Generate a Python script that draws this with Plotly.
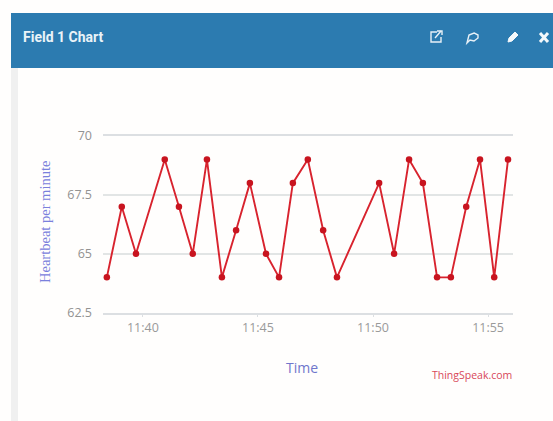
import plotly.graph_objects as go

title_text = "Field 1 Chart"
y_title = "Heartbeat per minute"
x_title = "Time"
credit = "ThingSpeak.com"

times = ["11:38:26", "11:39:05", "11:39:42", "11:40:57", "11:41:34", "11:42:10",
         "11:42:47", "11:43:26", "11:44:03", "11:44:39", "11:45:21", "11:45:55",
         "11:46:31", "11:47:10", "11:47:50", "11:48:26", "11:50:16", "11:50:55",
         "11:51:34", "11:52:10", "11:52:47", "11:53:23", "11:54:03", "11:54:39",
         "11:55:16", "11:55:52"]
heartbeat = [64, 67, 65, 69, 67, 65, 69, 64, 66, 68, 65, 64, 68,
             69, 66, 64, 68, 65, 69, 68, 64, 64, 67, 69, 64, 69]
y_ticks = [62.5, 65, 67.5, 70]
y_labels = ["62.5", "65", "67.5", "70"]
x_ticks = ["11:40:00", "11:45:00", "11:50:00", "11:55:00"]
x_labels = ["11:40", "11:45", "11:50", "11:55"]

W, H = 553, 421
DAY = "2024-01-01 "


def px(x):
    return x / W


def py(y):
    return 1 - y / H


def rect(x0, y0, x1, y1, color):
    return dict(type="rect", xref="paper", yref="paper", x0=px(x0), x1=px(x1),
                y0=py(y0), y1=py(y1), fillcolor=color, line_width=0, layer="below")


def icon(path_d):
    return dict(type="path", xref="paper", yref="paper", path=path_d,
                line=dict(color="#e8f1f7", width=1.4), layer="above")


def pth(points, close=False):
    d = "M " + " L ".join(f"{px(a):.5f},{py(b):.5f}" for a, b in points)
    return d + (" Z" if close else "")


shapes = [
    rect(11, 13, 553, 68, "#2c7bb0"),
    rect(11, 68, 18, 421, "#f0f0f0"),
    # external-link icon
    icon(pth([(437, 32), (431, 32), (431, 42), (441, 42), (441, 37)])),
    icon(pth([(435, 38), (441, 31)])),
    icon(pth([(437, 31), (442, 31), (442, 35)])),
    # speech bubble
    icon(pth([(474, 33), (478, 35), (478, 38), (474, 41), (470, 40), (467, 43),
              (468, 39), (469, 35)], close=True)),
    # pencil
    dict(type="path", xref="paper", yref="paper",
         path=pth([(508, 42), (509, 38), (515, 32), (518, 35), (512, 41)], close=True),
         fillcolor="#f4f8fb", line=dict(color="#f4f8fb", width=1), layer="above"),
    # close mark
    dict(type="path", xref="paper", yref="paper", path=pth([(540, 33), (548, 42)]),
         line=dict(color="#f4f8fb", width=3), layer="above"),
    dict(type="path", xref="paper", yref="paper", path=pth([(548, 33), (540, 42)]),
         line=dict(color="#f4f8fb", width=3), layer="above"),
]

annotations = [
    dict(text=f"<b>{title_text}</b>", xref="paper", yref="paper", x=px(21), y=py(37),
         xanchor="left", yanchor="middle", showarrow=False,
         font=dict(family="Roboto", size=14, color="#eaf3f8")),
    dict(text=y_title, xref="paper", yref="paper", x=px(45), y=py(222),
         xanchor="center", yanchor="middle", textangle=-90, showarrow=False,
         font=dict(family="Liberation Serif", size=14.5, color="#7a80dc")),
    dict(text=x_title, xref="paper", yref="paper", x=px(302), y=py(367),
         xanchor="center", yanchor="middle", showarrow=False,
         font=dict(family="Open Sans", size=14, color="#7076cc")),
    dict(text=credit, xref="paper", yref="paper", x=px(514), y=py(375),
         xanchor="right", yanchor="middle", showarrow=False,
         font=dict(family="Open Sans", size=10.5, color="#d8485a")),
]

fig = go.Figure(go.Scatter(
    x=[DAY + t for t in times], y=heartbeat, mode="lines+markers",
    line=dict(color="#d8232e", width=1.9),
    marker=dict(color="#c8141f", size=6.5),
    cliponaxis=False, showlegend=False,
))

fig.update_layout(
    width=W, height=H, autosize=False,
    margin=dict(l=0, r=0, t=0, b=0, pad=0, autoexpand=False),
    paper_bgcolor="#fffefd", plot_bgcolor="rgba(0,0,0,0)",
    shapes=shapes, annotations=annotations,
    font=dict(family="Open Sans", color="#8a8a8a", size=12),
    xaxis=dict(domain=[px(103), px(513)], type="date", automargin=False,
               range=[DAY + "11:38:16", DAY + "11:56:05"],
               tickvals=[DAY + t for t in x_ticks], ticktext=x_labels,
               showgrid=False, zeroline=False, showline=True, mirror=True,
               linecolor="#dcdfe2", linewidth=1.5, ticks="outside", ticklen=3,
               tickcolor="#dcdfe2",
               tickfont=dict(size=12.5, color="#9a9a9a")),
    yaxis=dict(domain=[py(312.7), py(136)], range=[62.5, 70], automargin=False,
               tickvals=y_ticks, ticktext=y_labels, showgrid=True,
               gridcolor="#e2e5e5", gridwidth=1.5, zeroline=False, showline=False,
               ticks="", ticklabelstandoff=10,
               tickfont=dict(size=12.5, color="#929292")),
)

fig.write_html("out.html", config=dict(displayModeBar=False),
               post_script="document.body.style.margin='0';")
